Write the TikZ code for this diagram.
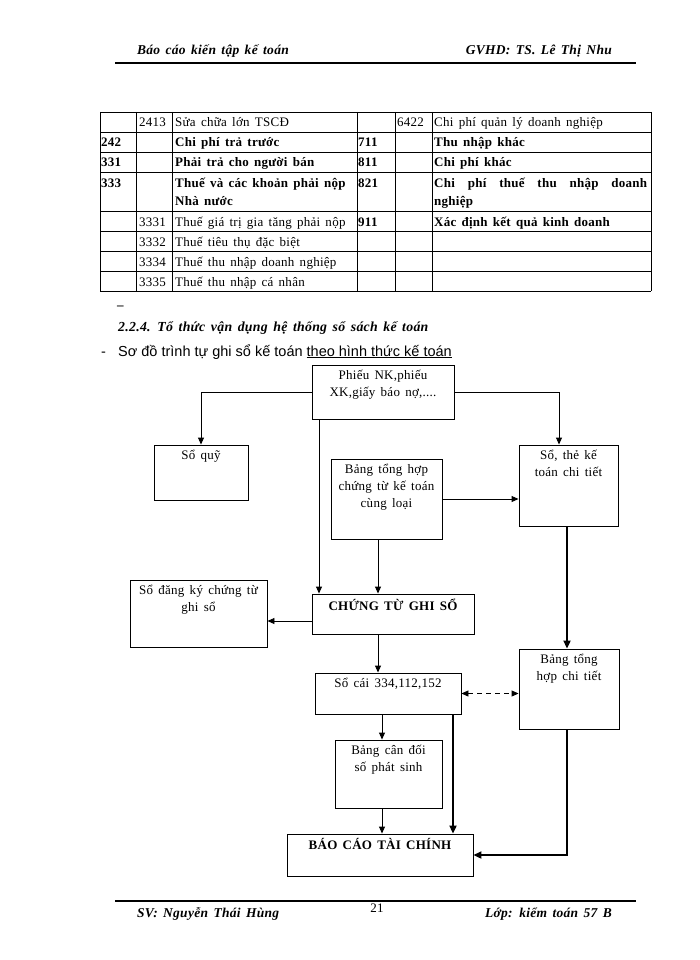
\documentclass[tikz,border=0pt]{standalone}
\usepackage{fontspec}
\setmainfont[WordSpace=1.5,LetterSpace=2]{Liberation Serif}
\newfontfamily\arialfont{Liberation Sans}
\usetikzlibrary{arrows.meta,positioning}
\tikzset{
  sbox/.style={draw, line width=0.9pt, inner sep=0pt},
  btext/.style={align=center, inner sep=2pt, font=\fontsize{13}{17}\selectfont},
  cell/.style={anchor=base west, inner sep=0pt, font=\fontsize{13}{18}\selectfont},
  flow/.style={line width=0.9pt, ->},
  heavy/.style={line width=2.2pt, -{Triangle[length=8pt,width=7pt]}},
}
\begin{document}
\begin{tikzpicture}[x=1pt,y=-1pt,>={Triangle[length=7pt,width=6pt]}]
\fill[white] (0,0) rectangle (700,960);
\useasboundingbox (0,0) rectangle (700,960);

% header and footer
\node[anchor=base west, inner sep=0pt, font=\bfseries\itshape\fontsize{13.5}{16}\selectfont] (hl) at (137,55) {Báo cáo kiến tập kế toán};
\node[anchor=base east, inner sep=0pt, font=\bfseries\itshape\fontsize{13.5}{16}\selectfont] (hr) at (612,55) {GVHD: TS. Lê Thị Nhu};
\draw[line width=1.3pt] (115,63) -- (636,63);
\draw[line width=1.3pt] (115,901) -- (636,901);
\node[anchor=base west, inner sep=0pt, font=\bfseries\itshape\fontsize{13.5}{16}\selectfont] (fl) at (137,917) {SV: Nguyễn Thái Hùng};
\node[anchor=base, inner sep=0pt, font=\fontsize{13}{16}\selectfont] (pg) at (377,912) {21};
\node[anchor=base east, inner sep=0pt, font=\bfseries\itshape\fontsize{13.5}{16}\selectfont] (fr) at (612,917) {Lớp: kiểm toán 57 B};

% table
\foreach \y in {112,132,152,172,211,231,251,271,291}
  \draw[line width=0.9pt] (100,\y) -- (651,\y);
\foreach \x in {100,136,172,357,395,432,651}
  \draw[line width=0.9pt] (\x,112) -- (\x,291);

\node[cell] at (139,127) {2413};
\node[cell] at (175,127) {Sửa chữa lớn TSCĐ};
\node[cell] at (397,127) {6422};
\node[cell] at (434,127) {Chi phí quản lý doanh nghiệp};

\node[cell, font=\bfseries\fontsize{13}{18}\selectfont] at (101,147) {242};
\node[cell, font=\bfseries\fontsize{13}{18}\selectfont] at (175,147) {Chi phí trả trước};
\node[cell, font=\bfseries\fontsize{13}{18}\selectfont] at (358,147) {711};
\node[cell, font=\bfseries\fontsize{13}{18}\selectfont] at (434,147) {Thu nhập khác};

\node[cell, font=\bfseries\fontsize{13}{18}\selectfont] at (101,167) {331};
\node[cell, font=\bfseries\fontsize{13}{18}\selectfont] at (175,167) {Phải trả cho người bán};
\node[cell, font=\bfseries\fontsize{13}{18}\selectfont] at (358,167) {811};
\node[cell, font=\bfseries\fontsize{13}{18}\selectfont] at (434,167) {Chi phí khác};

\node[cell, font=\bfseries\fontsize{13}{18}\selectfont] at (101,187) {333};
\node[cell, font=\bfseries\fontsize{13}{18}\selectfont] at (175,187) {Thuế và các khoản phải nộp};
\node[cell, font=\bfseries\fontsize{13}{18}\selectfont] at (175,205) {Nhà nước};
\node[cell, font=\bfseries\fontsize{13}{18}\selectfont] at (358,187) {821};
\node[cell, font=\bfseries\fontsize{13}{18}\selectfont] at (434,187) {\makebox[213pt][s]{Chi phí thuế thu nhập doanh}};
\node[cell, font=\bfseries\fontsize{13}{18}\selectfont] at (434,205) {nghiệp};

\node[cell] at (139,226) {3331};
\node[cell] at (175,226) {Thuế giá trị gia tăng phải nộp};
\node[cell, font=\bfseries\fontsize{13}{18}\selectfont] at (358,226) {911};
\node[cell, font=\bfseries\fontsize{13}{18}\selectfont] at (434,226) {Xác định kết quả kinh doanh};

\node[cell] at (139,246) {3332};
\node[cell] at (175,246) {Thuế tiêu thụ đặc biệt};
\node[cell] at (139,266) {3334};
\node[cell] at (175,266) {Thuế thu nhập doanh nghiệp};
\node[cell] at (139,286) {3335};
\node[cell] at (175,286) {Thuế thu nhập cá nhân};

% headings
\node[cell, font=\bfseries\fontsize{13}{16}\selectfont] (dsh) at (117,309) {–};
\node[cell, font=\bfseries\itshape\fontsize{13.8}{17}\selectfont] (sec) at (118,331) {2.2.4. Tổ thức vận dụng hệ thống sổ sách kế toán};
\node[cell, font=\arialfont\fontsize{14.5}{17}\selectfont] (bul) at (101,356) {-};
\node[cell, font=\arialfont\fontsize{14.5}{17}\selectfont] (cap) at (118,356) {Sơ đồ trình tự ghi  sổ kế toán \underline{theo hình thức kế toán}};

% boxes
\node[sbox, minimum width=142pt, minimum height=54pt] (phieu) at (383,392) {};
\node[btext, below=3pt of phieu.north] {Phiếu NK,phiếu\\XK,giấy báo nợ,....};
\node[sbox, minimum width=94pt, minimum height=55pt] (soquy) at (201,472.5) {};
\node[btext, below=3pt of soquy.north] {Sổ quỹ};
\node[sbox, minimum width=111pt, minimum height=80pt] (bangth) at (386.5,499) {};
\node[btext, below=3pt of bangth.north] {Bảng tổng hợp\\chứng từ kế toán\\cùng loại};
\node[sbox, minimum width=99pt, minimum height=81pt] (sothe) at (568.5,485.5) {};
\node[btext, below=3pt of sothe.north] {Sổ, thẻ kế\\toán chi tiết};
\node[sbox, minimum width=137pt, minimum height=67pt] (sodk) at (198.5,613.5) {};
\node[btext, below=3pt of sodk.north] {Sổ đăng ký chứng từ\\ghi sổ};
\node[sbox, minimum width=162pt, minimum height=40pt] (ctgs) at (393,614) {};
\node[btext, font=\bfseries\fontsize{13}{17}\selectfont, below=3pt of ctgs.north] {CHỨNG TỪ GHI SỔ};
\node[sbox, minimum width=146pt, minimum height=41pt] (socai) at (388,693.5) {};
\node[btext, below=3pt of socai.north] {Sổ cái 334,112,152};
\node[sbox, minimum width=100pt, minimum height=80pt] (bthct) at (569,689) {};
\node[btext, below=3pt of bthct.north] {Bảng tổng\\hợp chi tiết};
\node[sbox, minimum width=107pt, minimum height=68pt] (bcd) at (388.5,774) {};
\node[btext, below=3pt of bcd.north] {Bảng cân đối\\số phát sinh};
\node[sbox, minimum width=186pt, minimum height=42pt] (bctc) at (380,855) {};
\node[btext, font=\bfseries\fontsize{13}{17}\selectfont, below=3pt of bctc.north] {BÁO CÁO TÀI CHÍNH};

% connectors
\coordinate (left) at (319,0);
\coordinate (mid) at (378,0);
\coordinate (low) at (382,0);
\coordinate (rt) at (453,0);
\coordinate (far) at (559,0);
\coordinate (side) at (567,0);

\draw[flow] (phieu.west) -| (soquy.north);
\draw[flow] (phieu.east) -| (sothe.north -| far);
\draw[flow] (phieu.south -| left) -- (ctgs.north -| left);
\draw[flow] (bangth.south -| mid) -- (ctgs.north -| mid);
\draw[flow] (bangth.east) -- (bangth.east -| sothe.west);
\draw[flow] ([yshift=-7pt]ctgs.west) -- ([yshift=-7pt]ctgs.west -| sodk.east);
\draw[flow] (ctgs.south -| mid) -- (socai.north -| mid);
\draw[flow] (socai.south -| low) -- (bcd.north -| low);
\draw[flow] (bcd.south -| low) -- (bctc.north -| low);
\draw[heavy] (sothe.south -| side) -- (bthct.north -| side);
\draw[heavy] (socai.south -| rt) -- (bctc.north -| rt);
\draw[heavy] (bthct.south -| side) |- (bctc.east);
\draw[line width=0.9pt, dash pattern=on 5pt off 4pt, <->] (socai.east) -- (socai.east -| bthct.west);
\end{tikzpicture}
\end{document}
